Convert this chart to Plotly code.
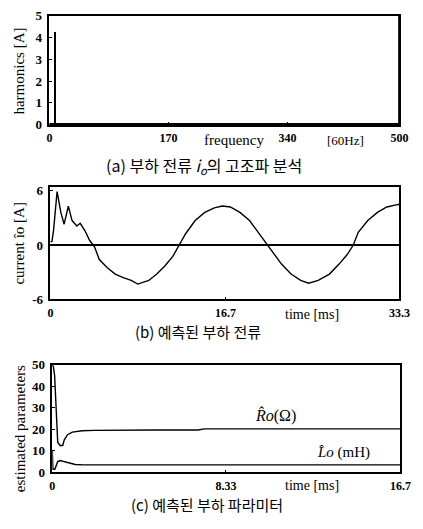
import plotly.graph_objects as go

W, H = 423, 529

# ---------- data ----------
# (a) harmonic spectrum
freq = [9]
harm = [4.25]
xticks_a = [0, 170, 340, 500]
yticks_a = [0, 1, 2, 3, 4, 5]

# (b) estimated load current
t_b = [0, 0.15, 0.3, 0.64, 1.0, 1.31, 1.71, 2.07, 2.53, 2.84, 3.29, 3.75, 4.21, 4.67,
       5.43, 6.19, 6.95, 7.71, 8.33, 8.78, 9.39, 10.15, 10.92, 11.68, 12.29, 12.9,
       13.81, 14.73, 15.64, 16.4, 17.17, 18.08, 19.0, 19.9, 20.68, 21.44, 22.05,
       22.96, 23.88, 24.64, 25.55, 26.62, 27.54, 28.3, 28.9, 29.37, 30.28, 31.2,
       32.1, 32.87, 33.3]
io_b = [0.36, 0.4, 1.6, 5.9, 3.6, 2.3, 4.3, 2.7, 2.1, 2.4, 1.6, 0.5, -0.2, -1.6,
        -2.5, -3.2, -3.6, -3.9, -4.3, -4.1, -3.9, -3.2, -2.3, -1.25, 0, 1.25,
        2.7, 3.6, 4.1, 4.3, 4.2, 3.6, 2.7, 1.25, 0, -1.25, -2.1,
        -3.2, -3.9, -4.2, -3.9, -3.2, -2.1, -1.07, 0, 1.4, 2.7, 3.6,
        4.2, 4.4, 4.5]
xticks_b = [0, 16.7, 33.3]
yticks_b = [-6, 0, 6]

# (c) estimated parameters
t_r = [0, 0.05, 0.11, 0.19, 0.26, 0.37, 0.5, 0.57, 0.73, 0.96, 1.43, 2.0, 2.82, 5.0, 7.0, 7.3, 12.0, 16.7]
r_c = [50, 49, 45, 25, 14, 12.5, 12.5, 15, 17.5, 18.7, 19.3, 19.5, 19.6, 19.7, 19.7, 20.2, 20.2, 20.2]
t_l = [0, 0.03, 0.12, 0.26, 0.37, 0.57, 0.8, 1.1, 1.5, 2.5, 16.7]
l_c = [10, 1.5, 1.5, 5.0, 5.5, 5.0, 4.2, 3.7, 3.5, 3.5, 3.5]
xticks_c = [0, 8.33, 16.7]
yticks_c = [0, 10, 20, 30, 40, 50]

SERIF = "Liberation Serif, DejaVu Serif, serif"
KR = "Noto Sans CJK KR"

def px(x):
    return x / W

def py(y):
    return 1 - y / H

fig = go.Figure()

fig.add_trace(go.Bar(x=freq, y=harm, width=2.0, marker=dict(color="black", line=dict(width=0)),
                     xaxis="x", yaxis="y", showlegend=False))
fig.add_trace(go.Scatter(x=t_b, y=io_b, mode="lines", line=dict(color="black", width=1.4),
                         xaxis="x2", yaxis="y2", showlegend=False))
fig.add_trace(go.Scatter(x=t_r, y=r_c, mode="lines", line=dict(color="black", width=1.4),
                         xaxis="x3", yaxis="y3", showlegend=False))
fig.add_trace(go.Scatter(x=t_l, y=l_c, mode="lines", line=dict(color="black", width=1.4),
                         xaxis="x3", yaxis="y3", showlegend=False))

tickf = dict(family=SERIF, size=13, color="black", weight="bold")
xtickf = dict(family=SERIF, size=12, color="black", weight="bold")

def xax(dom, rng, vals, anchor):
    return dict(domain=dom, range=rng, tickvals=vals, ticktext=[str(v) for v in vals],
                tickfont=xtickf, showline=True, linecolor="black", linewidth=1.5,
                mirror=True, ticks="inside", ticklen=3, tickcolor="black",
                showgrid=False, zeroline=False, anchor=anchor, ticklabelstandoff=1,
                fixedrange=True)

def yax(dom, rng, vals, anchor, zl=False):
    return dict(domain=dom, range=rng, tickvals=vals, ticktext=[str(v) for v in vals],
                tickfont=tickf, showline=True, linecolor="black", linewidth=1.5,
                mirror=True, ticks="inside", ticklen=3, tickcolor="black",
                showgrid=False, zeroline=zl, zerolinecolor="black", zerolinewidth=1.5,
                anchor=anchor, ticklabelstandoff=3, fixedrange=True)

fig.update_layout(
    width=W, height=H,
    margin=dict(l=0, r=0, t=0, b=0),
    paper_bgcolor="white", plot_bgcolor="white",
    bargap=0,
    xaxis=xax([px(48), px(410)], [0, 500], xticks_a, "y"),
    yaxis=yax([py(121), py(9)], [0, 5], yticks_a, "x"),
    xaxis2=xax([px(49), px(410)], [0, 33.3], xticks_b, "y2"),
    yaxis2=yax([py(301), py(185)], [-6, 6.43], yticks_b, "x2", zl=True),
    xaxis3=xax([px(51), px(411)], [0, 16.7], xticks_c, "y3"),
    yaxis3=yax([py(479), py(368)], [0, 50], yticks_c, "x3"),
)

# heavier baseline on the spectrum panel and right edge
fig.add_shape(type="line", xref="x domain", yref="y domain", x0=0, x1=1, y0=0, y1=0,
              line=dict(color="black", width=3))
fig.add_shape(type="line", xref="x domain", yref="y domain", x0=1, x1=1, y0=0, y1=1,
              line=dict(color="black", width=2.5))

ann = []
def text(x, y, s, size=14, family=SERIF, angle=0, xanchor="center"):
    ann.append(dict(x=px(x), y=py(y), xref="paper", yref="paper", text=s, showarrow=False,
                    font=dict(family=family, size=size, color="black"), textangle=angle,
                    xanchor=xanchor, yanchor="middle"))

# axis titles
text(17, 66, "harmonics [A]", 15, angle=-90)
text(17, 243, "current \u00eeo [A]", 15, angle=-90)
text(17, 434, "estimated parameters", 15, angle=-90)
text(239, 137, "frequency", 15)
text(354, 137, "[60Hz]", 13)
text(320, 316, "time [ms]", 14)
text(320, 492, "time [ms]", 14)

# curve labels
text(282, 420, "<i>R\u0302o</i>(\u03a9)", 16)
text(352, 458, "<i>L\u0302o</i> (mH)", 15)

# captions
text(208, 163, "(a) 부하 전류 <i>i<sub>o</sub></i>의 고조파 분석", 16, family=KR)
text(202, 334, "(b) 예측된 부하 전류", 15, family=KR)
text(211, 512, "(c) 예측된 부하 파라미터", 15, family=KR)

fig.update_layout(annotations=ann)
fig.write_html("out.html", config={"displayModeBar": False},
               post_script="document.body.style.margin='0';document.body.style.padding='0';"
                           "document.documentElement.style.overflow='hidden';")
